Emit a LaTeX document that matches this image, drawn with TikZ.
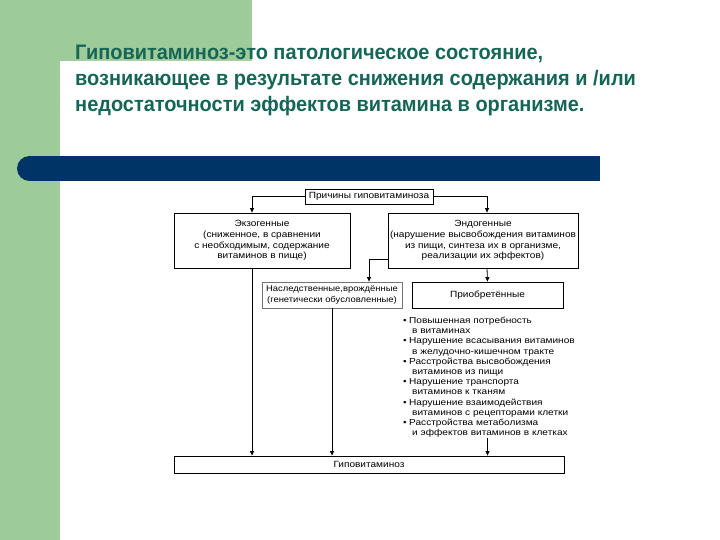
\documentclass[tikz,border=0pt]{standalone}
\usepackage{fontspec}
\setmainfont{Liberation Sans}
\newfontfamily\ttlfont{Liberation Sans}[FakeStretch=0.95]
\newfontfamily\diafont{Liberation Sans}[FakeStretch=1.12]
\newfontfamily\lstfont{Liberation Sans}[FakeStretch=1.16]
\usetikzlibrary{arrows.meta}
\definecolor{slgreen}{RGB}{157,203,154}
\definecolor{slnavy}{RGB}{0,51,102}
\definecolor{sltitle}{RGB}{22,102,88}
\newcommand\lbul{\makebox[6pt][l]{•}}
\newcommand\lind{\hspace*{9pt}}
\begin{document}
\begin{tikzpicture}[x=1pt,y=-1pt,
  box/.style={draw=black, line width=0.8pt, inner sep=0pt, align=center,
    font=\diafont\fontsize{9}{10.8}\selectfont},
  conn/.style={line width=0.8pt, -{Triangle[length=4.5pt,width=4pt]}},
  ttl/.style={anchor=base west, inner sep=0pt, text=sltitle,
    font=\ttlfont\bfseries\fontsize{21}{21}\selectfont}]
\useasboundingbox (0,0) rectangle (720,540);
% background
\fill[white] (0,0) rectangle (720,540);
\fill[slgreen] (0,0) rectangle (252,61);
\fill[slgreen] (0,0) rectangle (60,540);
\fill[white, rounded corners=20pt] (60,61) rectangle (760,580);
% navy bar
\fill[slnavy] (29.5,168.5) circle (12.5pt);
\fill[slnavy] (29.5,156) rectangle (600,181);
% title
\node[ttl] (t1) at (75,60) {Гиповитаминоз-это патологическое состояние,};
\node[ttl] (t2) at (75,86) {возникающее в результате снижения содержания и /или};
\node[ttl] (t3) at (75,111.5) {недостаточности эффектов витамина в организме.};
% diagram
\node[box, minimum width=128pt, minimum height=15pt] (pr) at (369,196.5) {Причины гиповитаминоза};
\node[box, minimum width=176pt, minimum height=55pt] (ex) at (262,240.5)
  {Экзогенные\\(сниженное, в сравнении\\с необходимым, содержание\\витаминов в пище)};
\node[box, minimum width=190pt, minimum height=55pt] (en) at (483,240.5)
  {Эндогенные\\(нарушение высвобождения витаминов\\из пищи, синтеза их в организме,\\реализации их эффектов)};
\node[box, draw=black!55, minimum width=140pt, minimum height=26pt,
  font=\diafont\fontsize{8.4}{10.6}\selectfont] (he) at (332,295)
  {Наследственные,врождённые\\(генетически обусловленные)};
\node[box, minimum width=151pt, minimum height=26pt] (pa) at (487.5,295) {Приобретённые};
\node[anchor=north west, inner sep=0pt, align=left,
  font=\lstfont\fontsize{8.7}{10.2}\selectfont] (li) at (403,317)
  {\lbul Повышенная потребность\\
   \lind в витаминах\\
   \lbul Нарушение всасывания витаминов\\
   \lind в желудочно-кишечном тракте\\
   \lbul Расстройства высвобождения\\
   \lind витаминов из пищи\\
   \lbul Нарушение транспорта\\
   \lind витаминов к тканям\\
   \lbul Нарушение взаимодействия\\
   \lind витаминов с рецепторами клетки\\
   \lbul Расстройства метаболизма\\
   \lind и эффектов витаминов в клетках};
\node[box, minimum width=390pt, minimum height=17pt] (hy) at (369,464.5) {Гиповитаминоз};
% connectors
\draw[conn] (pr.west) -| ([xshift=-10pt]ex.north);
\draw[conn] (pr.east) -| ([xshift=4pt]en.north);
\draw[conn] ([xshift=-10pt]ex.south) -- ([xshift=-10pt]ex.south |- hy.north);
\draw[conn] ([yshift=-18.5pt]en.west) -| ([xshift=37pt]he.north);
\draw[conn] ([xshift=4pt]en.south) -- (pa.north);
\draw[conn] (he.south) -- (he.south |- hy.north);
\draw[conn] (pa.south |- li.south) -- (pa.south |- hy.north);
\end{tikzpicture}
\end{document}
